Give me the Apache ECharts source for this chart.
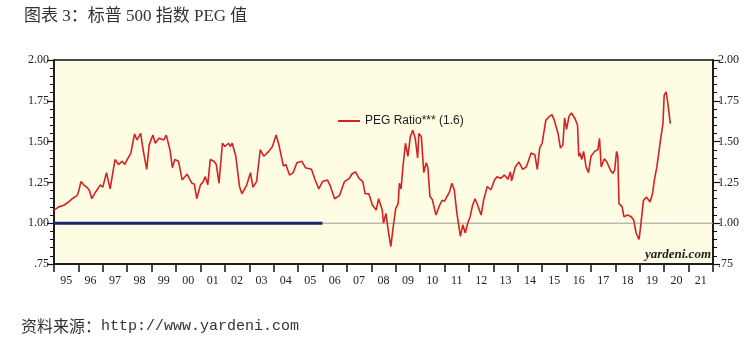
<!DOCTYPE html>
<html>
<head>
<meta charset="utf-8">
<script src="https://cdn.jsdelivr.net/npm/echarts@6/dist/echarts.min.js"></script>
<style>
html,body{margin:0;padding:0;background:#fff;}
#chart{width:750px;height:337px;}
</style>
</head>
<body>
<div id="chart"></div>
<script>
// Year tick labels (bands 1995..2021)
const yearLabels = ['95','96','97','98','99','00','01','02','03','04','05','06','07','08','09','10','11','12','13','14','15','16','17','18','19','20','21'];

// PEG ratio readings: decimal year and value
const pegDates = [
1995.00,1995.20,1995.40,1995.60,1995.75,1995.95,1996.02,1996.10,1996.22,1996.35,1996.45,1996.55,1996.70,1996.90,
1997.00,1997.15,1997.30,1997.40,1997.50,1997.65,1997.80,1997.90,1998.00,1998.15,1998.30,1998.40,1998.55,1998.65,
1998.80,1998.90,1999.05,1999.15,1999.30,1999.50,1999.60,1999.75,1999.85,1999.95,2000.10,2000.25,2000.45,2000.65,
2000.75,2000.85,2001.00,2001.10,2001.20,2001.30,2001.40,2001.55,2001.65,2001.76,2001.90,2002.00,2002.15,2002.22,
2002.30,2002.45,2002.60,2002.70,2002.90,2003.05,2003.15,2003.30,2003.45,2003.60,2003.80,2003.95,2004.10,2004.20,
2004.40,2004.50,2004.65,2004.80,2004.95,2005.15,2005.30,2005.55,2005.70,2005.85,2006.00,2006.20,2006.30,2006.50,
2006.70,2006.90,2007.10,2007.20,2007.35,2007.50,2007.65,2007.75,2007.90,2008.05,2008.20,2008.30,2008.45,2008.50,
2008.60,2008.70,2008.80,2008.90,2009.00,2009.10,2009.15,2009.22,2009.30,2009.40,2009.50,2009.60,2009.70,2009.80,
2009.90,2009.95,2010.05,2010.15,2010.25,2010.32,2010.40,2010.50,2010.65,2010.80,2010.90,2011.00,2011.20,2011.30,
2011.40,2011.50,2011.65,2011.75,2011.85,2011.95,2012.05,2012.15,2012.25,2012.32,2012.50,2012.60,2012.75,2012.90,
2013.05,2013.15,2013.30,2013.45,2013.60,2013.70,2013.75,2013.90,2014.05,2014.20,2014.35,2014.55,2014.70,2014.80,
2014.90,2015.00,2015.15,2015.30,2015.40,2015.50,2015.65,2015.75,2015.85,2015.92,2016.00,2016.10,2016.20,2016.35,
2016.45,2016.50,2016.55,2016.62,2016.70,2016.80,2016.90,2017.00,2017.15,2017.28,2017.35,2017.42,2017.55,2017.65,
2017.80,2017.90,2017.97,2018.05,2018.10,2018.15,2018.28,2018.35,2018.50,2018.65,2018.75,2018.85,2018.90,2018.97,
2019.05,2019.15,2019.28,2019.42,2019.52,2019.60,2019.70,2019.76,2019.85,2019.90,2019.95,2020.00,2020.08,2020.15,
2020.20,2020.25];
const pegValues = [
1.08,1.10,1.11,1.13,1.15,1.17,1.20,1.255,1.235,1.22,1.20,1.15,1.19,1.235,
1.22,1.31,1.21,1.30,1.39,1.36,1.38,1.36,1.39,1.43,1.547,1.51,1.55,1.45,
1.33,1.48,1.54,1.49,1.52,1.51,1.54,1.45,1.34,1.39,1.38,1.265,1.30,1.245,
1.24,1.15,1.235,1.25,1.285,1.235,1.39,1.38,1.36,1.245,1.49,1.47,1.49,1.47,
1.49,1.41,1.225,1.18,1.235,1.31,1.22,1.255,1.45,1.41,1.44,1.47,1.54,1.49,
1.35,1.36,1.295,1.31,1.37,1.38,1.34,1.33,1.265,1.21,1.255,1.265,1.235,1.15,
1.17,1.255,1.275,1.30,1.315,1.275,1.255,1.18,1.18,1.11,1.08,1.15,1.08,1.00,
1.06,0.95,0.857,0.98,1.09,1.12,1.245,1.21,1.35,1.49,1.41,1.53,1.57,1.52,
1.40,1.55,1.53,1.31,1.37,1.34,1.165,1.145,1.05,1.11,1.14,1.135,1.19,1.245,
1.205,1.07,0.92,0.99,0.94,1.00,1.04,1.11,1.15,1.125,1.05,1.14,1.225,1.205,
1.265,1.285,1.275,1.295,1.27,1.315,1.26,1.345,1.375,1.33,1.345,1.43,1.42,1.33,
1.46,1.49,1.63,1.655,1.665,1.63,1.55,1.46,1.48,1.645,1.575,1.655,1.675,1.64,
1.60,1.41,1.43,1.39,1.44,1.345,1.31,1.41,1.44,1.45,1.52,1.345,1.395,1.375,
1.325,1.305,1.325,1.44,1.41,1.12,1.10,1.04,1.05,1.04,1.02,0.94,0.95,0.90,
1.00,1.14,1.16,1.13,1.18,1.265,1.345,1.335,1.51,1.52,1.61,1.785,1.805,1.735,
1.745,1.61];

// Blue benchmark segment (1995 to 2006 at 1.00)
const blueDates = [1995, 2006];
const blueValues = [1.0, 1.0];
// Thin grey reference at 1.00 across the whole range
const refDates = [1995, 2022];
const refValues = [1.0, 1.0];

const pegName = 'PEG Ratio*** (1.6)';
const zip = (xs, ys) => xs.map((x, i) => [x, ys[i]]);

const chart = echarts.init(document.getElementById('chart'));
const serif = 'Liberation Serif, Times New Roman, serif';
const yLabelFmt = v => v < 1 ? v.toFixed(2).replace(/^0/, '') : v.toFixed(2);

const yAxisBase = {
  type: 'value', min: 0.75, max: 2.0, interval: 0.25,
  axisLine: { show: true, lineStyle: { color: '#111', width: 1.5 } },
  axisTick: { show: true, length: 7, lineStyle: { color: '#111', width: 1.2 } },
  minorTick: { show: true, splitNumber: 5, length: 4, lineStyle: { color: '#111', width: 1 } },
  splitLine: { show: false },
  axisLabel: { formatter: yLabelFmt, fontFamily: serif, fontSize: 12, color: '#222', margin: 5 }
};

chart.setOption({
  animation: false,
  backgroundColor: '#ffffff',
  title: {
    text: '图表 3：标普 500 指数 PEG 值',
    left: 19, top: 3,
    textStyle: { fontSize: 17, fontWeight: 'normal', color: '#333', fontFamily: 'Liberation Serif, Noto Sans CJK SC' }
  },
  legend: {
    data: [pegName],
    left: 333, top: 110,
    icon: 'rect', itemWidth: 22, itemHeight: 2,
    textStyle: { fontSize: 12, color: '#222', fontFamily: 'Liberation Sans, Arial, sans-serif' }
  },
  grid: {
    left: 54, right: 37, top: 60, bottom: 73,
    show: true, backgroundColor: '#FEFCE2', borderColor: '#111', borderWidth: 1.5
  },
  xAxis: [
    {
      type: 'value', min: 1995, max: 2022, interval: 1, position: 'bottom',
      axisLine: { show: true, lineStyle: { color: '#111', width: 1.5 } },
      axisTick: { show: true, length: 8, lineStyle: { color: '#111', width: 1.5 } },
      axisLabel: { show: false },
      splitLine: { show: false }
    },
    {
      type: 'category', data: yearLabels, position: 'bottom', boundaryGap: true,
      axisLine: { show: false }, axisTick: { show: false },
      axisLabel: { fontFamily: serif, fontSize: 12, color: '#222', margin: 11, interval: 0 },
      splitLine: { show: false }
    }
  ],
  yAxis: [
    Object.assign({}, yAxisBase, { position: 'left' }),
    Object.assign({}, yAxisBase, { position: 'right' })
  ],
  graphic: [
    {
      type: 'text', right: 39, top: 248,
      style: { text: 'yardeni.com', font: 'italic bold 13px ' + serif, fill: '#222' }
    },
    {
      type: 'text', left: 21, top: 318,
      style: {
        text: '{a|资料来源：}{b|http://www.yardeni.com}',
        rich: {
          a: { fontSize: 16, fontFamily: 'Noto Sans CJK SC', fill: '#333', color: '#333' },
          b: { fontSize: 15, fontFamily: 'Liberation Mono, monospace', fill: '#333', color: '#333' }
        }
      }
    }
  ],
  series: [
    {
      name: 'ref', type: 'line', xAxisIndex: 0, yAxisIndex: 0,
      data: zip(refDates, refValues), symbol: 'none', silent: true,
      lineStyle: { color: '#9a9a9a', width: 1 }, z: 1
    },
    {
      name: 'bench', type: 'line', xAxisIndex: 0, yAxisIndex: 0,
      data: zip(blueDates, blueValues), symbol: 'none', silent: true,
      lineStyle: { color: '#1d2470', width: 3 }, z: 2
    },
    {
      name: pegName, type: 'line', xAxisIndex: 0, yAxisIndex: 0,
      data: zip(pegDates, pegValues), symbol: 'none', showSymbol: false,
      itemStyle: { color: '#d42222' },
      lineStyle: { color: '#d42222', width: 1.6 }, z: 3
    }
  ]
});
</script>
</body>
</html>
